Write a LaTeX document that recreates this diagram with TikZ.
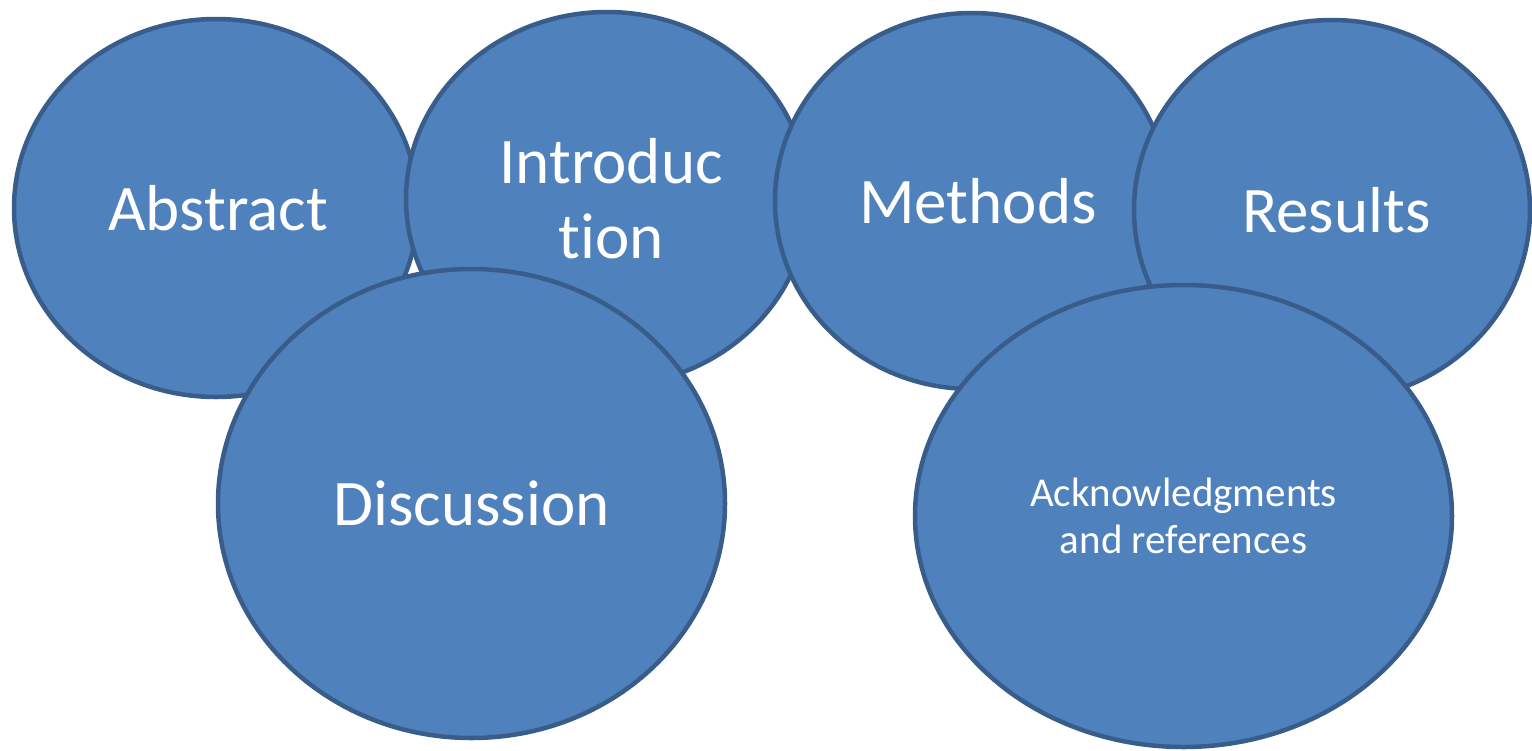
\documentclass[tikz,border=0pt]{standalone}
\usepackage{fontspec}
\setmainfont{Carlito}[Ligatures={NoCommon,NoRare}]
\usetikzlibrary{shapes.geometric}
\definecolor{fillblue}{HTML}{4F81BD}
\definecolor{edgeblue}{HTML}{385D8A}
\begin{document}
\begin{tikzpicture}[x=1pt,y=-1pt,
  bubble/.style={ellipse, draw=edgeblue, fill=fillblue, line width=4.5pt, inner sep=0pt, text=white, align=center},
  bigtext/.style={font=\fontsize{65}{75}\selectfont},
  smalltext/.style={font=\fontsize{41}{47}\selectfont}]
\useasboundingbox (0,0) rectangle (1532,750);
\node[bubble, bigtext, minimum width=404pt, minimum height=378pt] (abstract) at (216,208) {\hspace*{4pt}Abstract};
\node[bubble, bigtext, minimum width=402pt, minimum height=374pt] (intro) at (607,199) {\hspace*{8pt}Introduc\\\hspace*{8pt}tion};
\node[bubble, bigtext, minimum width=394pt, minimum height=376pt] (methods) at (972,201) {\hspace*{12pt}Methods};
\node[bubble, bigtext, minimum width=396pt, minimum height=380pt] (results) at (1332,210) {\hspace*{9pt}Results};
\node[bubble, bigtext, minimum width=507pt, minimum height=469pt] (discussion) at (471.5,503.5) {Discussion};
\node[bubble, smalltext, minimum width=537pt, minimum height=462pt] (ack) at (1183.5,516) {Acknowledgments\\and references};
\end{tikzpicture}
\end{document}
